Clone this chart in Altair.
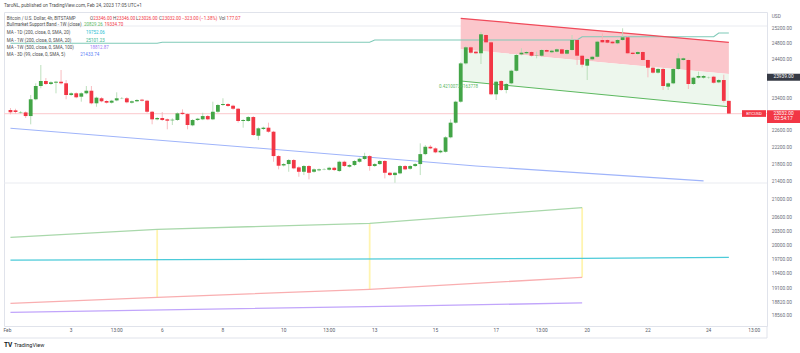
import altair as alt
import pandas as pd

FONT = "Roboto"

# ---------------- data ----------------
candle_idx = list(range(143))
opens = [23118, 23110, 23055, 23060, 22970, 23385, 23719, 23846, 23770, 23803,
         23828, 23788, 23492, 23535, 23450, 23535, 23600, 23285, 23410, 23342,
         23300, 23357, 23410, 23410, 23300, 23335, 23375, 23350, 23076, 22890,
         22922, 22890, 22865, 22873, 23050, 23019, 22744, 22873, 22890, 22970,
         22890, 23076, 23243, 23268, 23225, 23150, 22849, 22849, 22946, 22492,
         22655, 22686, 22589, 22009, 21790, 21822, 21916, 21745, 21643, 21776,
         21643, 21676, 21699, 21690, 21736, 21660, 21876, 21760, 21799, 21876,
         21940, 22009, 21776, 21822, 21893, 21620, 21567, 21606, 21776, 21713,
         21776, 21822, 22055, 22229, 22190, 22097, 22110, 22454, 22808, 23325,
         24299, 24720, 24605, 24563, 25047, 24852, 23510, 23846, 23618, 23787,
         24110, 24535, 24563, 24596, 24510, 24499, 24649, 24590, 24605, 24667,
         24552, 24649, 24914, 24499, 24240, 24405, 24472, 24914, 24914, 24869,
         24826, 24914, 24985, 24578, 24544, 24596, 24387, 24187, 24059, 24154,
         23702, 23787, 24154, 24387, 24387, 23770, 23930, 23930, 23930, 23956,
         23812, 23871, 23346]
highs = [23168, 23150, 23090, 23085, 23492, 23787, 24257, 23922, 23840, 23850,
         24128, 23871, 23560, 23560, 23560, 23719, 23719, 23450, 23440, 23360,
         23370, 23560, 23440, 23440, 23355, 23390, 23395, 23370, 23095, 22945,
         23068, 22910, 22915, 23060, 23135, 23040, 22895, 22925, 23051, 22995,
         23325, 23270, 23410, 23290, 23250, 23170, 22895, 22970, 22970, 22695,
         22710, 22808, 22610, 22030, 21845, 21940, 21940, 21770, 21800, 21800,
         21720, 21720, 21725, 21760, 21760, 21900, 21900, 21820, 21915, 21970,
         22087, 22030, 21845, 21915, 21915, 21640, 21640, 21800, 21800, 21800,
         21845, 22310, 22270, 22270, 22215, 22160, 22480, 22890, 23350, 24330,
         24750, 24750, 24630, 25128, 25070, 24875, 23850, 23870, 23795, 24135,
         24545, 24695, 24620, 24620, 24605, 24675, 24675, 24655, 24690, 24690,
         24675, 25047, 24940, 24525, 24440, 24495, 24895, 25093, 24940, 24895,
         24940, 25227, 25010, 24600, 24620, 24620, 24410, 24210, 24180, 24180,
         23810, 24180, 24563, 24455, 24410, 23955, 24084, 24000, 23960, 23980,
         23895, 24007, 23346]
lows = [23013, 23030, 23030, 22922, 22768, 23360, 23661, 23745, 23745, 23535,
        23760, 23385, 23470, 23410, 23325, 23510, 23260, 23200, 23310, 23280,
        23280, 23335, 23390, 23285, 23280, 23315, 23330, 23050, 22768, 22865,
        22850, 22647, 22751, 22850, 23000, 22647, 22720, 22850, 22870, 22870,
        22870, 23050, 23220, 23195, 23125, 22808, 22686, 22830, 22492, 22389,
        22630, 22565, 21876, 21699, 21765, 21643, 21700, 21528, 21567, 21468,
        21620, 21655, 21680, 21670, 21660, 21640, 21755, 21740, 21775, 21855,
        21920, 21667, 21755, 21800, 21490, 21545, 21391, 21585, 21680, 21690,
        21755, 21567, 22030, 22170, 22075, 22075, 22090, 22430, 22785, 23300,
        24270, 24550, 24540, 24283, 24830, 23485, 23367, 23595, 23535, 23765,
        24090, 24510, 24540, 24475, 24430, 24475, 24580, 24565, 24580, 24530,
        24530, 24625, 24260, 24195, 23871, 24380, 24450, 24830, 24820, 24800,
        24800, 24890, 24540, 24520, 24520, 24365, 23940, 24035, 24035, 23618,
        23618, 23765, 24130, 24365, 23643, 23745, 23905, 23905, 23905, 23780,
        23790, 23300, 23026]
closes = [23061, 23070, 23065, 22970, 23385, 23719, 23846, 23770, 23813, 23828,
          23788, 23492, 23535, 23435, 23535, 23600, 23285, 23425, 23335, 23300,
          23350, 23410, 23415, 23310, 23335, 23367, 23350, 23076, 22890, 22922,
          22873, 22856, 22880, 23036, 23019, 22751, 22873, 22905, 22970, 22890,
          23076, 23243, 23268, 23218, 23150, 22849, 22873, 22946, 22509, 22671,
          22686, 22589, 22009, 21783, 21822, 21916, 21722, 21643, 21776, 21620,
          21699, 21699, 21705, 21736, 21683, 21876, 21776, 21799, 21893, 21946,
          22009, 21776, 21822, 21893, 21620, 21567, 21620, 21776, 21699, 21776,
          21822, 22055, 22229, 22190, 22097, 22135, 22454, 22808, 23325, 24299,
          24720, 24578, 24563, 25066, 24852, 23510, 23828, 23618, 23770, 24110,
          24517, 24578, 24596, 24499, 24517, 24649, 24605, 24631, 24667, 24552,
          24649, 24914, 24499, 24265, 24413, 24472, 24869, 24852, 24843, 24826,
          24914, 24985, 24563, 24544, 24596, 24387, 24187, 24059, 24154, 23719,
          23787, 24154, 24431, 24431, 23770, 23930, 23974, 23974, 23935, 23802,
          23871, 23346, 23032]

# time axis labels (candle index -> label)
tick_idx = [-0.6, 12, 21, 30, 42, 54, 63, 72, 84, 96, 105, 114, 126, 138, 147]
tick_text = ["Feb", "3", "13:00", "6", "8", "10", "13:00", "13", "15", "17",
             "13:00", "20", "22", "24", "13:00"]

# price axis labels
price_ticks = [25200, 24800, 24400, 23400, 22600, 22200, 21800, 21400, 21000,
               20600, 20300, 20000, 19700, 19400, 19100, 18820, 18560]

# Bullmarket support band (weekly)
band_idx = [0, 29, 71, 113]
band_upper = [20180, 20353, 20484, 20829]
band_lower = [18805, 18927, 19090, 19335]

# MA 1D (200)
ma1d_idx = [0, 77, 113, 142]
ma1d_val = [19696, 19720, 19731, 19752]

# MA 1W (500)
ma1w500_idx = [0, 77, 113]
ma1w500_val = [18625, 18750, 18813]

# MA 1W (200)
ma1w200_idx = [0, 29, 30, 71, 72, 112, 113, 139, 140, 142]
ma1w200_val = [24826, 24826, 24852, 24852, 24914, 24914, 25002, 25002, 25101, 25101]

# MA 3D (99)
ma3d_idx = [0, 50, 92, 137]
ma3d_val = [22671, 22187, 21776, 21434]

# regression channel
ch_idx = [89, 142]
ch_upper = [25498, 24852]
ch_mid = [24667, 24025]
ch_lower = [23846, 23200]

last_price = 23032
marked_price = 23939

# ---------------- frames ----------------
candles = pd.DataFrame({"i": candle_idx, "o": opens, "h": highs, "l": lows, "c": closes})
candles["dir"] = ["up" if c >= o else "down" for o, c in zip(opens, closes)]

band_marks = pd.DataFrame({"i": band_idx[1:], "u": band_upper[1:], "lo": band_lower[1:]})
chan = pd.DataFrame({"i": ch_idx, "u": ch_upper, "m": ch_mid, "lo": ch_lower})
ticks_df = pd.DataFrame({"i": tick_idx, "t": tick_text})
price_df = pd.DataFrame({"p": price_ticks})
one = pd.DataFrame({"a": [0]})

xs = alt.Scale(domain=[-0.29, 148.55], nice=False, zero=False)
ys = alt.Scale(type="log", domain=[18356, 25670], nice=False)

X = lambda f="i": alt.X(f"{f}:Q", scale=xs, axis=None)
Y = lambda f: alt.Y(f"{f}:Q", scale=ys, axis=None)
YD = lambda v: alt.Y(datum=v, scale=ys, axis=None)


def line(ix, vals, color, width=1.2):
    df = pd.DataFrame({"i": ix, "v": vals})
    return alt.Chart(df).mark_line(color=color, strokeWidth=width).encode(x=X(), y=Y("v"))


def txt(s, px, py, color="#4d4d4d", size=4.5, align="left", weight="normal", dy=0):
    return alt.Chart(one).mark_text(
        align=align, baseline="middle", font=FONT, fontSize=size, color=color,
        fontWeight=weight, dy=dy
    ).encode(x=alt.value(px), y=alt.value(py), text=alt.value(s))


def hline(py):
    return alt.Chart(one).mark_rule(color="#e9ebf0", strokeWidth=1).encode(
        x=alt.value(0), x2=alt.value(763), y=alt.value(py))


layers = []

# faint pane lines
layers.append(hline(14))
layers.append(hline(171))

# channel fills
layers.append(alt.Chart(chan).mark_area(color="#fbc6cb", opacity=1).encode(x=X(), y=Y("u"), y2="m"))
layers.append(alt.Chart(chan).mark_area(color="#edf7ed", opacity=1).encode(x=X(), y=Y("m"), y2="lo"))

# price line
layers.append(alt.Chart(one).mark_rule(color="#fcd3d6", strokeWidth=1.3).encode(y=YD(last_price)))

# band
layers.append(alt.Chart(band_marks).mark_rule(color="#fff4b0", strokeWidth=1.8).encode(x=X(), y=Y("lo"), y2="u"))
layers.append(line(band_idx, band_upper, "#a9d8ab", 1.3))
layers.append(line(band_idx, band_lower, "#f9aeb0", 1.3))

# moving averages
layers.append(line(ma1d_idx, ma1d_val, "#4ccbd9", 1.3))
layers.append(line(ma1w500_idx, ma1w500_val, "#c1a5fb", 1.3))
layers.append(line(ma1w200_idx, ma1w200_val, "#7fcab8", 1.1))
layers.append(line(ma3d_idx, ma3d_val, "#9fb4fa", 1.1))

# channel lines
layers.append(line(ch_idx, ch_upper, "#f04a5a", 1.3))
layers.append(line(ch_idx, ch_lower, "#5cb85f", 1.1))

# candles
layers.append(alt.Chart(candles).mark_rule(strokeWidth=0.9).encode(
    x=X(), y=Y("l"), y2="h",
    stroke=alt.Stroke("dir:N", scale=alt.Scale(domain=["up", "down"], range=["#b5dcb7", "#f8b4ba"]), legend=None)))
layers.append(alt.Chart(candles).mark_bar(size=3.8).encode(
    x=X(), y=Y("o"), y2="c",
    color=alt.Color("dir:N", scale=alt.Scale(domain=["up", "down"], range=["#43a547", "#f23645"]), legend=None)))

# channel label
layers.append(txt("0.42100734163778", 435, 75, color="#5cb85f"))

# time labels
layers.append(alt.Chart(ticks_df).mark_text(
    baseline="middle", font=FONT, fontSize=4.8, color="#555a66"
).encode(x=X(), y=alt.value(319), text="t:N"))

# price labels
layers.append(alt.Chart(price_df).mark_text(
    align="left", baseline="middle", font=FONT, fontSize=4.8, color="#6a6d78"
).encode(x=alt.value(767.7), y=Y("p"), text=alt.Text("p:Q", format=".2f")))

# price badges
layers.append(alt.Chart(one).mark_tick(orient="horizontal", size=33, thickness=7, color="#363a45", opacity=1)
              .encode(x=alt.value(779.5), y=YD(marked_price)))
layers.append(alt.Chart(one).mark_text(font=FONT, fontSize=4.8, color="white", baseline="middle")
              .encode(x=alt.value(779.5), y=YD(marked_price), text=alt.value("23939.00")))
layers.append(alt.Chart(one).mark_tick(orient="horizontal", size=33, thickness=12.7, color="#f23645", opacity=1, yOffset=3)
              .encode(x=alt.value(779.5), y=YD(last_price)))
layers.append(alt.Chart(one).mark_text(font=FONT, fontSize=4.8, color="white", baseline="middle")
              .encode(x=alt.value(779.5), y=YD(last_price), text=alt.value("23032.00")))
layers.append(alt.Chart(one).mark_text(font=FONT, fontSize=4.8, color="white", baseline="middle", dy=5.5)
              .encode(x=alt.value(779.5), y=YD(last_price), text=alt.value("02:54:17")))
layers.append(alt.Chart(one).mark_tick(orient="horizontal", size=24, thickness=6.7, color="#f23645", opacity=1)
              .encode(x=alt.value(750), y=YD(last_price)))
layers.append(alt.Chart(one).mark_text(font=FONT, fontSize=4.2, color="white", baseline="middle")
              .encode(x=alt.value(750), y=YD(last_price), text=alt.value("BTCUSD")))
layers.append(txt("USD", 767.7, 5, color="#6a6d78", size=4.8))

# frame lines below the time axis
layers.append(alt.Chart(one).mark_rule(color="#e0e3eb", strokeWidth=1).encode(
    x=alt.value(-4), x2=alt.value(763), y=alt.value(326)))
layers.append(alt.Chart(one).mark_rule(color="#e0e3eb", strokeWidth=1).encode(
    x=alt.value(763), y=alt.value(314), y2=alt.value(326)))

# header and legend
layers.append(txt("TaroNL, published on TradingView.com, Feb 24, 2023 17:05 UTC+1", 0, -6, color="#4d4d4d", size=4.7))
red = "#f23645"
gray = "#4d4d4d"
legend_rows = [
    (7, [("Bitcoin / U.S. Dollar, 4h, BITSTAMP", 2.7, gray), ("O", 86, gray), ("23346.00", 89.2, red),
         ("H", 109, gray), ("23346.00", 112.4, red), ("L", 132, gray), ("23026.00", 134.6, red),
         ("C", 155, gray), ("23032.00", 158.1, red), ("\u2212323.00 (\u22121.38%)", 178, red),
         ("Vol", 215, gray), ("177.07", 222.6, red)]),
    (13, [("Bullmarket Support Band - 1W (close)", 2.7, gray), ("20829.26", 80, "#5cb85f"),
          ("19334.70", 100.5, red)]),
    (21, [("MA - 1D (200, close, 0, SMA, 20)", 2.7, gray), ("19752.06", 82, "#26c0d3")]),
    (28.5, [("MA - 1W (200, close, 0, SMA, 20)", 2.7, gray), ("25101.23", 82, "#3bb592")]),
    (36, [("MA - 1W (500, close, 0, SMA, 100)", 2.7, gray), ("18812.87", 86, "#a07cf5")]),
    (43, [("MA - 3D (99, close, 0, SMA, 5)", 2.7, gray), ("21433.74", 76.3, "#5b7df5")]),
]
for py, segs in legend_rows:
    for s, px, col in segs:
        layers.append(txt(s, px, py, color=col))

# footer
layers.append(txt("TV", 0, 333, color="#131722", size=6.5, weight="bold"))
layers.append(txt("TradingView", 10, 333, color="#131722", size=5.5))

chart = alt.layer(*layers).properties(
    width=763, height=314,
    autosize=alt.AutoSizeParams(type="none"),
    padding={"left": 4, "top": 12, "right": 33, "bottom": 27},
    background="white",
).configure_view(stroke="#e0e3eb", strokeWidth=1)

chart.save("out.html", embed_options={"renderer": "svg", "actions": False})
